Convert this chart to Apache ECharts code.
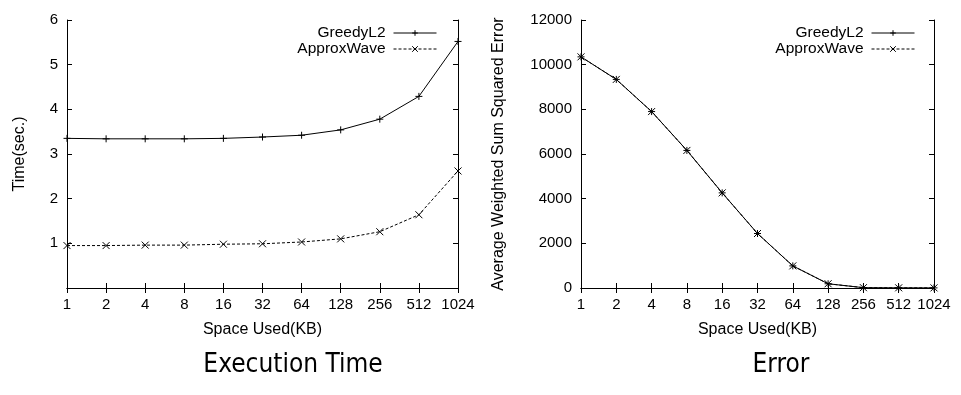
<!DOCTYPE html>
<html>
<head>
<meta charset="utf-8">
<script src="https://cdn.jsdelivr.net/npm/echarts@6/dist/echarts.min.js"></script>
<style>
  html, body { margin: 0; padding: 0; background: #fff; }
  #chart { width: 961px; height: 395px; }
</style>
</head>
<body>
<div id="chart"></div>
<script>
const spaceKB = ["1", "2", "4", "8", "16", "32", "64", "128", "256", "512", "1024"];

// execution time (sec.)
const timeGreedy = [3.35, 3.34, 3.34, 3.34, 3.35, 3.38, 3.42, 3.54, 3.78, 4.29, 5.52];
const timeApprox = [0.95, 0.95, 0.96, 0.96, 0.98, 0.99, 1.03, 1.10, 1.26, 1.64, 2.62];

// average weighted sum squared error
const errGreedy = [10350, 9340, 7900, 6160, 4260, 2440, 990, 190, 15, 8, 5];
const errApprox = [10350, 9340, 7900, 6160, 4260, 2440, 990, 190, 15, 8, 5];

const plusSym = "path://M0,5L10,5M5,0L5,10";
const crossSym = "path://M0,0L10,10M0,10L10,0";
const font = "Liberation Sans, Arial, sans-serif";
const titleFont = "DejaVu Sans Condensed, DejaVu Sans, sans-serif";

const chart = echarts.init(document.getElementById("chart"));

function xAx(grid, pos) {
  const bottom = pos === "bottom";
  return {
    type: "category",
    gridIndex: grid,
    position: pos,
    data: spaceKB,
    boundaryGap: false,
    name: bottom ? "Space Used(KB)" : "",
    nameLocation: "middle",
    nameGap: 34,
    nameTextStyle: { color: "#000", fontSize: 16, fontFamily: font },
    axisLine: { lineStyle: { color: "#000", width: 1 } },
    axisTick: { inside: true, length: 5, lineStyle: { color: "#000" }, alignWithLabel: true },
    axisLabel: { show: bottom, color: "#000", fontSize: 15, fontFamily: font, margin: 9, interval: 0 },
    splitLine: { show: false }
  };
}

function yAx(grid, pos, max, step, name, gap) {
  const left = pos === "left";
  return {
    type: "value",
    gridIndex: grid,
    position: pos,
    min: 0,
    max: max,
    interval: step,
    name: left ? name : "",
    nameLocation: "middle",
    nameGap: gap,
    nameTextStyle: { color: "#000", fontSize: 16, fontFamily: font },
    axisLine: { show: true, lineStyle: { color: "#000", width: 1 } },
    axisTick: { show: true, inside: true, length: 5, lineStyle: { color: "#000" } },
    axisLabel: {
      show: left, color: "#000", fontSize: 15, fontFamily: font, margin: 9,
      formatter: function (v) { return (grid === 0 && v === 0) ? "" : v; }
    },
    splitLine: { show: false }
  };
}

function line(name, data, xi, yi, sym, dashed) {
  return {
    name: name,
    type: "line",
    xAxisIndex: xi,
    yAxisIndex: yi,
    data: data,
    symbol: sym,
    symbolSize: 7,
    showAllSymbol: true,
    itemStyle: { color: "#000", borderColor: "#000", borderWidth: 1 },
    lineStyle: { color: "#000", width: 1, type: dashed ? [3, 2] : "solid" },
    emphasis: { disabled: true },
    animation: false
  };
}

function legend(right) {
  return {
    orient: "vertical",
    align: "right",
    right: right,
    top: 25,
    padding: 0,
    itemGap: 0,
    itemWidth: 43,
    itemHeight: 7,
    lineStyle: { width: 1 },
    itemStyle: { borderWidth: 1 },
    textStyle: { color: "#000", fontSize: 15.5, lineHeight: 15, fontFamily: font, padding: [0, 3, 0, 0] },
    data: ["GreedyL2", "ApproxWave"]
  };
}

chart.setOption({
  backgroundColor: "#fff",
  animation: false,
  title: [
    { text: "Execution Time", left: 288, top: 347, textAlign: "center",
      textStyle: { fontFamily: titleFont, fontWeight: "normal", fontSize: 26, color: "#000" } },
    { text: "Error", left: 776, top: 347, textAlign: "center",
      textStyle: { fontFamily: titleFont, fontWeight: "normal", fontSize: 26, color: "#000" } }
  ],
  legend: [legend(524), legend(46)],
  grid: [
    { left: 67, right: 503, top: 20, bottom: 107 },
    { left: 581, right: 27, top: 20, bottom: 107 }
  ],
  xAxis: [xAx(0, "bottom"), xAx(0, "top"), xAx(1, "bottom"), xAx(1, "top")],
  yAxis: [
    yAx(0, "left", 6, 1, "Time(sec.)", 39),
    yAx(0, "right", 6, 1, "", 0),
    yAx(1, "left", 12000, 2000, "Average Weighted Sum Squared Error", 74),
    yAx(1, "right", 12000, 2000, "", 0)
  ],
  series: [
    line("GreedyL2", timeGreedy, 0, 0, plusSym, false),
    line("ApproxWave", timeApprox, 0, 0, crossSym, true),
    line("GreedyL2", errGreedy, 2, 2, plusSym, false),
    line("ApproxWave", errApprox, 2, 2, crossSym, true)
  ]
});
</script>
</body>
</html>
